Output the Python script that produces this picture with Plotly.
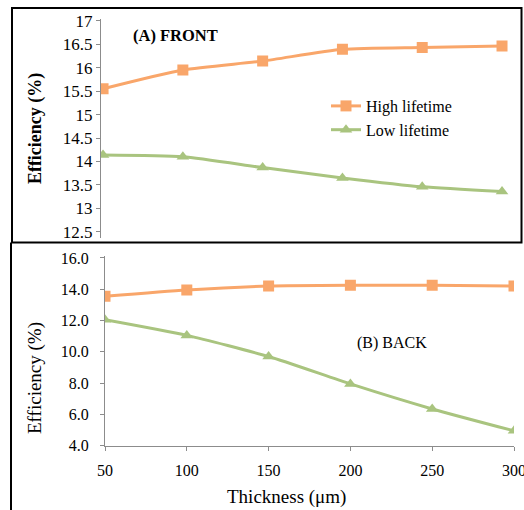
import plotly.graph_objects as go

thickness = [50, 100, 150, 200, 250, 300]
front_high = [15.55, 15.95, 16.14, 16.39, 16.43, 16.46]
front_low = [14.14, 14.10, 13.87, 13.65, 13.46, 13.36]
back_high = [13.55, 13.95, 14.2, 14.25, 14.25, 14.2]
back_low = [12.05, 11.05, 9.7, 7.95, 6.35, 4.95]

ORANGE = "#F9A66A"
GREEN = "#A9C47F"
FONT = "Liberation Serif"
W, H = 524, 510

def px_x(p):
    return p / W

def px_y(p):
    return 1 - p / H

def series(y, name, color, symbol, xa, ya, legend):
    return go.Scatter(x=thickness, y=y, name=name, mode="lines+markers",
                      line=dict(color=color, width=3, shape="spline", smoothing=0.6),
                      marker=dict(symbol=symbol, size=11, color=color),
                      xaxis=xa, yaxis=ya, showlegend=legend)

fig = go.Figure()
fig.add_trace(series(front_high, "High lifetime", ORANGE, "square", "x", "y", True))
fig.add_trace(series(front_low, "Low lifetime", GREEN, "triangle-up", "x", "y", True))
fig.add_trace(series(back_high, "High lifetime", ORANGE, "square", "x2", "y2", False))
fig.add_trace(series(back_low, "Low lifetime", GREEN, "triangle-up", "x2", "y2", False))

axis_common = dict(showgrid=False, zeroline=False, showline=True, linecolor="#8c8c8c", linewidth=1,
                   ticks="outside", tickcolor="#8c8c8c", ticklen=4, tickwidth=1, automargin=False)

fig.update_layout(
    width=W, height=H,
    margin=dict(l=0, r=0, t=0, b=0, autoexpand=False),
    paper_bgcolor="white", plot_bgcolor="white",
    font=dict(family=FONT, color="black"),
    showlegend=True,
    legend=dict(x=px_x(326), y=px_y(89), xanchor="left", yanchor="top",
                font=dict(family=FONT, size=16, color="black"),
                bgcolor="rgba(0,0,0,0)", itemwidth=30, tracegroupgap=0),
    xaxis=dict(domain=[px_x(101), px_x(510)], range=[48.7, 305], showticklabels=False,
               showline=False, showgrid=False, zeroline=False, ticks="", anchor="y", automargin=False),
    yaxis=dict(domain=[px_y(238), px_y(18.8)], range=[12.37, 17.04], anchor="x",
               tickvals=[12.5, 13, 13.5, 14, 14.5, 15, 15.5, 16, 16.5, 17],
               ticktext=["12.5", "13", "13.5", "14", "14.5", "15", "15.5", "16", "16.5", "17"],
               tickfont=dict(family=FONT, size=17, color="black"),
               title=dict(text="<b>Efficiency (%)</b>", font=dict(family=FONT, size=18, color="black"), standoff=16),
               **axis_common),
    xaxis2=dict(domain=[px_x(105), px_x(514)], range=[50, 300], anchor="y2",
                tickvals=thickness, ticktext=[str(t) for t in thickness], ticklabeloverflow="allow",
                ticklabelstandoff=6,
                tickfont=dict(family=FONT, size=16, color="black"),
                **axis_common),
    yaxis2=dict(domain=[px_y(445.7), px_y(256.4)], range=[4, 16.1], anchor="x2",
                tickvals=[4, 6, 8, 10, 12, 14, 16],
                ticktext=["4.0", "6.0", "8.0", "10.0", "12.0", "14.0", "16.0"],
                ticklabelstandoff=8,
                tickfont=dict(family=FONT, size=16, color="black"),
                **axis_common),
    annotations=[
        dict(text="<b>(A) FRONT</b>", x=px_x(131), y=px_y(36), xref="paper", yref="paper",
             xanchor="left", yanchor="middle", showarrow=False,
             font=dict(family=FONT, size=16.5, color="black")),
        dict(text="(B) BACK", x=px_x(355), y=px_y(343), xref="paper", yref="paper",
             xanchor="left", yanchor="middle", showarrow=False,
             font=dict(family=FONT, size=16, color="black")),
        dict(text="Thickness (μm)", x=px_x(286), y=px_y(497), xref="paper", yref="paper",
             xanchor="center", yanchor="middle", showarrow=False,
             font=dict(family=FONT, size=19, color="black")),
        dict(text="Efficiency (%)", x=px_x(35), y=px_y(378), xref="paper", yref="paper",
             xanchor="center", yanchor="middle", showarrow=False, textangle=-90,
             font=dict(family=FONT, size=19, color="black")),
    ],
    shapes=[
        dict(type="rect", xref="paper", yref="paper", x0=px_x(12), x1=px_x(521.5), y0=px_y(242.5), y1=px_y(8),
             line=dict(color="black", width=2)),
        dict(type="line", xref="paper", yref="paper", x0=px_x(11), x1=px_x(11), y0=px_y(242.5), y1=px_y(510),
             line=dict(color="black", width=2)),
    ],
)

fig.write_html("out.html")
